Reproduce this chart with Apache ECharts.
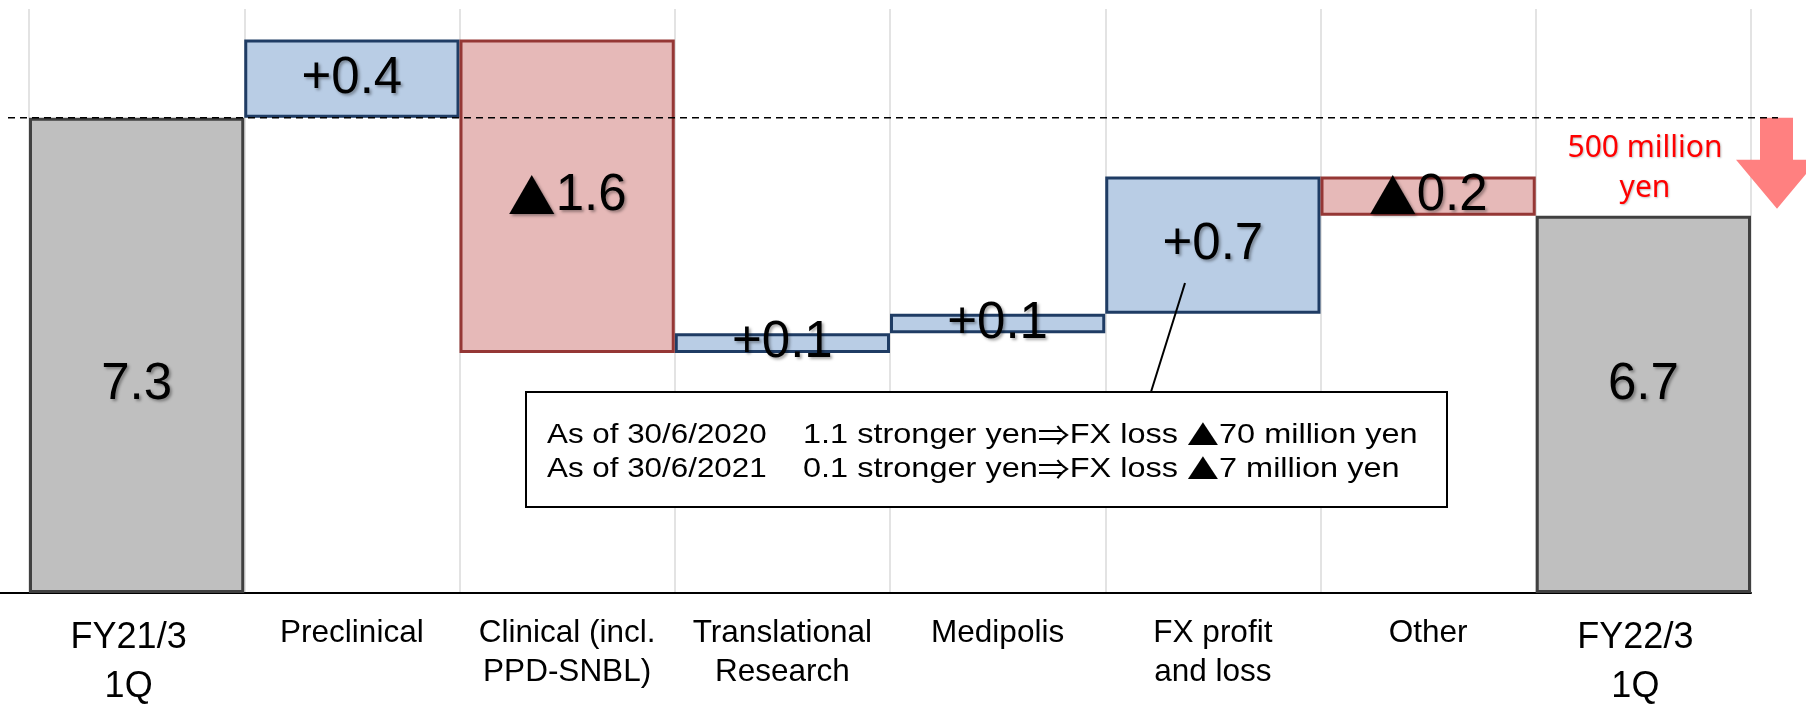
<!DOCTYPE html>
<html>
<head>
<meta charset="utf-8">
<script src="https://cdn.jsdelivr.net/npm/echarts/dist/echarts.min.js"></script>
<style>
html, body { margin: 0; padding: 0; background: #fff; }
#container1 { width: 1806px; height: 707px; }
</style>
</head>
<body>
<div id="container1"></div>
<script>
// data (units: 100 million yen)
var categories = ['FY21/3\n1Q', 'Preclinical', 'Clinical (incl.\nPPD-SNBL)', 'Translational\nResearch',
    'Medipolis', 'FX profit\nand loss', 'Other', 'FY22/3\n1Q'];
var startTotal = 7.3;
var changes = [0.4, -1.6, 0.1, 0.1, 0.7, -0.2];
var endTotal = 6.8;   // height the closing bar is drawn at
var valueLabels = ['7.3', '+0.4', '▲1.6', '+0.1', '+0.1', '+0.7', '▲0.2', '6.7'];
var noteDates = ['As of 30/6/2020', 'As of 30/6/2021'];
var noteTexts = ['1.1 stronger yen⇒FX loss ▲70 million yen', '0.1 stronger yen⇒FX loss ▲7 million yen'];
var dropLabel = '500 million\nyen';

var yMin = 4.875, yMax = 7.855;

var FONT = "'Liberation Sans', 'DejaVu Sans', sans-serif";
var CJK = "'Noto Sans CJK JP', sans-serif";

// full-width symbols (▲, ⇒) come from the Japanese font, as on the slide
function markSymbols(s) {
    return s.replace(/[▲⇒]/g, function (ch) { return '{sym|' + ch + '}'; });
}

// waterfall: transparent base + visible pieces, all in one stack
var base = [], totalBar = [], upBar = [], downBar = [];
base.push(yMin); totalBar.push(+(startTotal - yMin).toFixed(3)); upBar.push('-'); downBar.push('-');
var level = startTotal;
changes.forEach(function (c) {
    var next = +(level + c).toFixed(3);
    base.push(Math.min(level, next));
    totalBar.push('-');
    upBar.push(c > 0 ? c : '-');
    downBar.push(c < 0 ? +(-c).toFixed(3) : '-');
    level = next;
});
base.push(yMin); totalBar.push(+(endTotal - yMin).toFixed(3)); upBar.push('-'); downBar.push('-');

var shadow = {
    textShadowColor: 'rgba(0,0,0,0.35)',
    textShadowBlur: 3,
    textShadowOffsetX: 2,
    textShadowOffsetY: 2
};
var barLabel = Object.assign({
    show: true,
    color: '#000',
    fontSize: 51,
    fontFamily: FONT,
    formatter: function (p) { return markSymbols(valueLabels[p.dataIndex]); },
    rich: {
        sym: Object.assign({ fontSize: 48, fontFamily: CJK, color: '#000' }, shadow)
    }
}, shadow);

var dom = document.getElementById('container1');
var myChart = echarts.init(dom);
var option = {
    animation: false,
    grid: { left: 29, right: 55, top: 9, bottom: 114 },
    xAxis: {
        type: 'category',
        data: categories,
        axisTick: { show: false },
        axisLine: { lineStyle: { color: '#000', width: 2 } },
        splitLine: { show: true, interval: 0, lineStyle: { color: '#dadada', width: 1.5 } },
        axisLabel: {
            interval: 0,
            margin: 21,
            formatter: function (v, i) {
                var tag = (i === 0 || i === categories.length - 1) ? 'big' : 'small';
                return v.split('\n').map(function (s) { return '{' + tag + '|' + s + '}'; }).join('\n');
            },
            rich: {
                small: { fontSize: 31.5, lineHeight: 39, color: '#000', fontFamily: FONT },
                big: { fontSize: 36, lineHeight: 49, padding: [0, 16, 0, 0], color: '#000', fontFamily: FONT }
            }
        }
    },
    yAxis: { type: 'value', show: false, min: yMin, max: yMax },
    series: [
        {
            name: 'base', type: 'bar', stack: 'wf', data: base, silent: true,
            barWidth: '100%', barCategoryGap: '0%',
            itemStyle: { color: 'rgba(0,0,0,0)' }
        },
        {
            name: 'total', type: 'bar', stack: 'wf', data: totalBar,
            itemStyle: { color: '#bfbfbf', borderColor: '#404040', borderWidth: 3 },
            label: Object.assign({}, barLabel, {
                position: ['50%', '100%'], offset: [0, -208], align: 'center', verticalAlign: 'middle'
            })
        },
        {
            name: 'up', type: 'bar', stack: 'wf', data: upBar,
            itemStyle: { color: '#b9cde5', borderColor: '#1f3c64', borderWidth: 3 },
            label: Object.assign({}, barLabel, { position: 'inside' })
        },
        {
            name: 'down', type: 'bar', stack: 'wf', data: downBar,
            itemStyle: { color: '#e6b9b8', borderColor: '#953735', borderWidth: 3 },
            label: Object.assign({}, barLabel, { position: 'inside' })
        }
    ]
};
myChart.setOption(option);

// annotations placed on the chart's own scale
var yStart = myChart.convertToPixel({ yAxisIndex: 0 }, startTotal);
var yEnd = myChart.convertToPixel({ yAxisIndex: 0 }, endTotal);
var yBase = myChart.convertToPixel({ yAxisIndex: 0 }, yMin);
var tip = yEnd - 7, headTop = tip - 49;

var noteStyle = {
    fill: '#000', fontSize: 28.5, fontFamily: FONT, lineHeight: 34, align: 'left', verticalAlign: 'top',
    rich: { sym: { fontSize: 28, fontFamily: CJK, fill: '#000', lineHeight: 34 } }
};

myChart.setOption({
    graphic: [
        {
            type: 'line', z: 100, silent: true,
            shape: { x1: 8, y1: yStart, x2: 1778, y2: yStart },
            style: { stroke: '#000', lineWidth: 1.5, lineDash: [7, 5] }
        },
        {
            type: 'line', z: 100, silent: true,
            shape: { x1: 0, y1: yBase, x2: 29, y2: yBase },
            style: { stroke: '#000', lineWidth: 2 }
        },
        {
            type: 'polygon', z: 90, silent: true,
            shape: { points: [[1760, yStart], [1793, yStart], [1793, headTop], [1818, headTop],
                [1777, tip], [1736, headTop], [1760, headTop]] },
            style: { fill: '#ff8080' }
        },
        {
            type: 'text', z: 100, silent: true, x: 1645, y: 128,
            style: {
                text: dropLabel, fill: '#ff0000', fontSize: 30, fontFamily: "'Noto Sans', sans-serif",
                lineHeight: 40, align: 'center', verticalAlign: 'top',
                textShadowColor: 'rgba(0,0,0,0.25)', textShadowBlur: 2, textShadowOffsetX: 1, textShadowOffsetY: 1
            }
        },
        {
            type: 'line', z: 100, silent: true,
            shape: { x1: 1185, y1: 283, x2: 1151, y2: 392 },
            style: { stroke: '#000', lineWidth: 2 }
        },
        {
            type: 'rect', z: 100, silent: true,
            shape: { x: 526, y: 392, width: 921, height: 115 },
            style: { fill: '#fff', stroke: '#000', lineWidth: 2 }
        },
        {
            type: 'text', z: 101, silent: true, x: 547, y: 418, scaleX: 1.1,
            style: Object.assign({}, noteStyle, { text: noteDates.join('\n') })
        },
        {
            type: 'text', z: 101, silent: true, x: 803, y: 418, scaleX: 1.14,
            style: Object.assign({}, noteStyle, { text: noteTexts.map(markSymbols).join('\n') })
        }
    ]
});
</script>
</body>
</html>
